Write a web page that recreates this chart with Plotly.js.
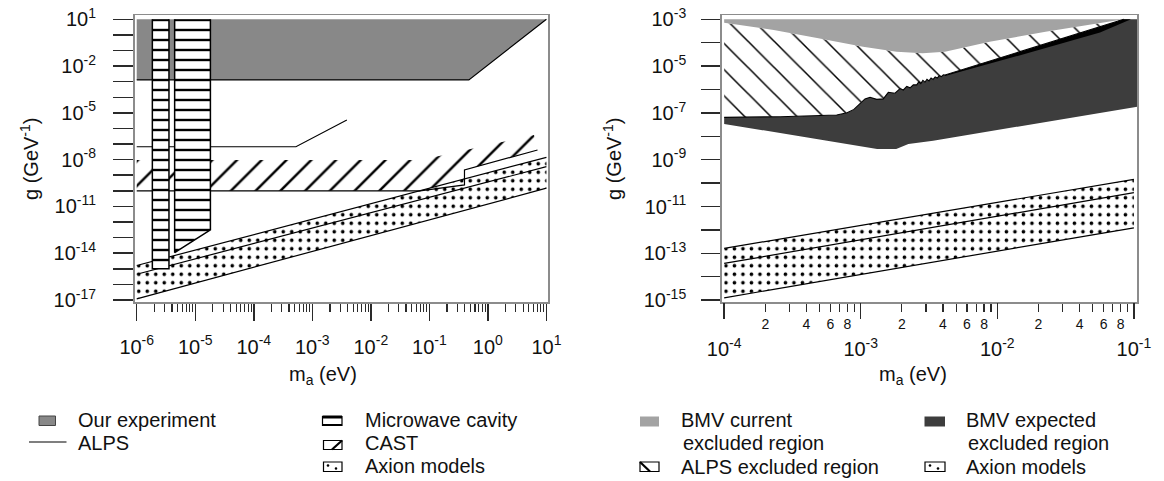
<!DOCTYPE html>
<html>
<head>
<meta charset="utf-8">
<script src="https://cdn.plot.ly/plotly-3.0.1.min.js"></script>
<style>
html,body{margin:0;padding:0;background:#fff;}
#chart{width:1164px;height:481px;}
</style>
</head>
<body>
<div id="chart"></div>
<script>
// ===== DATA (log10 of m_a [eV] and log10 of g [GeV^-1]) =====
// ---- left panel ----
const ourExpLogM = [-6, 1, -0.325, -6];
const ourExpLogG = [1, 1, -2.89, -2.89];
const mwc1LogM = [-5.733, -5.449, -5.449, -5.733];
const mwc1LogG = [1, 1, -15.0, -15.0];
const mwc2LogM = [-5.352, -4.741, -4.741, -5.352];
const mwc2LogG = [1, 1, -12.5, -13.96];
const castLogM = [-6, -1.14, 0.788, 0.848, -0.40, -0.40, -1.16, -6];
const castLogG = [-8.02, -8.02, -6.42, -7.38, -8.66, -9.62, -10.0, -10.0];
const castEdgeLogM = [-6, -1.16, -0.40, -0.40, 0.848];
const castEdgeLogG = [-10.0, -10.0, -9.62, -8.66, -7.38];
const alpsLineLogM = [-6, -3.28, -2.41];
const alpsLineLogG = [-7.17, -7.17, -5.46];
const axionLeftLogM = [-6, 1];
const axionLeftUpper = [-14.79, -7.85];
const axionLeftMid = [-15.35, -8.45];
const axionLeftLower = [-16.93, -9.83];
// ---- right panel ----
const bmvCurLogM = [-4.0, -3.637, -3.310, -2.983, -2.737, -2.547, -2.383, -2.056, -1.647, -1.238, -1.074];
const bmvCurLogG = [-3.145, -3.457, -3.812, -4.171, -4.385, -4.453, -4.385, -3.957, -3.530, -3.171, -3.0];
const alpsExclLogM = [-4.0, -3.591, -3.176, -3.10, -3.05, -3.029, -3.0, -2.969, -2.932, -2.883, -2.835, -2.798, -2.749, -2.712, -2.688, -2.663, -2.639, -2.615, -2.59, -2.575, -2.56, -2.545, -2.53, -2.515, -2.50, -2.485, -2.47, -2.455, -2.44, -2.425, -2.41, -2.395, -2.383, -1.074];
const alpsExclLogG = [-7.19, -7.162, -7.09, -6.99, -6.85, -6.735, -6.55, -6.40, -6.33, -6.42, -6.40, -6.12, -6.16, -5.96, -6.02, -5.87, -5.93, -5.80, -5.80, -5.67, -5.75, -5.61, -5.69, -5.56, -5.63, -5.51, -5.57, -5.46, -5.51, -5.41, -5.45, -5.37, -5.38, -3.0];
const bmvExpRightLogM = [-0.975, -0.975];
const bmvExpRightLogG = [-3.0, -6.735];
const bmvExpLowerLogM = [-2.47, -2.651, -2.74, -2.88, -4.0];
const bmvExpLowerLogG = [-8.19, -8.33, -8.54, -8.54, -7.47];
const wedgeLogM = [-2.383, -1.074, -1.021, -1.248, -1.736, -2.383];
const wedgeLogG = [-5.38, -3.0, -3.0, -3.56, -4.38, -5.42];
const axionRightLogM = [-4, -1.0];
const axionRightUpper = [-12.79, -9.84];
const axionRightMid = [-13.43, -10.41];
const axionRightLower = [-14.90, -11.91];

// tick labels
const leftXTickExp = [-6, -5, -4, -3, -2, -1, 0, 1];
const leftYLabelExp = [1, -2, -5, -8, -11, -14, -17];
const leftYOtherExp = [0, -1, -3, -4, -6, -7, -9, -10, -12, -13, -15, -16];
const rightXTickExp = [-4, -3, -2, -1];
const rightYLabelExp = [-3, -5, -7, -9, -11, -13, -15];
const rightYOtherExp = [-4, -6, -8, -10, -12, -14];
const minorMult = [2, 3, 4, 5, 6, 7, 8, 9];
const minorLabelled = [2, 4, 6, 8];
const minorUnlabelled = [3, 5, 7, 9];

// ===== helpers =====
const P = a => a.map(v => (v === null ? null : Math.pow(10, v)));
const sup = e => '10<sup>' + e + '</sup>';
const W = 1164, H = 481;
const px = v => v / W, py = v => 1 - v / H;
const FONT = 'Liberation Sans, Arial, Helvetica, sans-serif';

function fillTrace(xa, ya, lm, lg, opts) {
  return Object.assign({
    type: 'scatter', mode: 'lines', x: P(lm), y: P(lg), xaxis: xa, yaxis: ya,
    fill: 'toself', line: {width: 0, color: 'rgba(0,0,0,0)'}, hoverinfo: 'skip', showlegend: false
  }, opts);
}
function lineTrace(xa, ya, lm, lg, w) {
  return {type: 'scatter', mode: 'lines', x: P(lm), y: P(lg), xaxis: xa, yaxis: ya,
    line: {width: w || 1.2, color: '#000'}, hoverinfo: 'skip', showlegend: false};
}
function band(xa, ya, lm, up, mid, lo) {
  const polyM = [lm[0], lm[1], lm[1], lm[0]];
  const polyG = [up[0], up[1], lo[1], lo[0]];
  return [
    fillTrace(xa, ya, polyM, polyG, {fillcolor: '#fff',
      fillpattern: {shape: '.', size: 8.5, solidity: 0.14, fgcolor: '#000', bgcolor: '#fff', fillmode: 'replace'}}),
    lineTrace(xa, ya, [lm[0], lm[1], null, lm[0], lm[1], null, lm[0], lm[1]],
      [up[0], up[1], null, mid[0], mid[1], null, lo[0], lo[1]], 1.2)
  ];
}

const traces = [];
// ---- left panel ----
traces.push(fillTrace('x', 'y', ourExpLogM, ourExpLogG, {fillcolor: '#888888'}));
traces.push(lineTrace('x', 'y', [ourExpLogM[3], ourExpLogM[2], ourExpLogM[1]], [ourExpLogG[3], ourExpLogG[2], ourExpLogG[1]], 1.2));
traces.push(fillTrace('x', 'y', castLogM, castLogG, {fillcolor: 'rgba(0,0,0,0)',
  fillpattern: {shape: '/', size: 17.5, solidity: 0.14, fgcolor: '#000', bgcolor: 'rgba(255,255,255,0)', fillmode: 'replace'}}));
band('x', 'y', axionLeftLogM, axionLeftUpper, axionLeftMid, axionLeftLower).forEach(t => traces.push(t));
traces.push(lineTrace('x', 'y', castEdgeLogM, castEdgeLogG, 1.2));
traces.push(lineTrace('x', 'y', alpsLineLogM, alpsLineLogG, 1.1));
const mwPattern = {shape: '-', size: 10, solidity: 0.24, fgcolor: '#000', bgcolor: '#fff', fillmode: 'replace'};
traces.push(fillTrace('x', 'y', mwc1LogM, mwc1LogG, {fillcolor: '#fff', fillpattern: mwPattern}));
traces.push(fillTrace('x', 'y', mwc2LogM, mwc2LogG, {fillcolor: '#fff', fillpattern: mwPattern}));
traces.push(lineTrace('x', 'y', [mwc1LogM[0], mwc1LogM[3], mwc1LogM[2], mwc1LogM[1]], [mwc1LogG[0], mwc1LogG[3], mwc1LogG[2], mwc1LogG[1]], 1.5));
traces.push(lineTrace('x', 'y', [mwc2LogM[0], mwc2LogM[3], mwc2LogM[2], mwc2LogM[1]], [mwc2LogG[0], mwc2LogG[3], mwc2LogG[2], mwc2LogG[1]], 1.5));

// ---- right panel ----
const darkM = alpsExclLogM.concat(bmvExpRightLogM, bmvExpLowerLogM);
const darkG = alpsExclLogG.concat(bmvExpRightLogG, bmvExpLowerLogG);
traces.push(fillTrace('x2', 'y2', darkM, darkG, {fillcolor: '#3d3d3d'}));
traces.push(fillTrace('x2', 'y2', wedgeLogM, wedgeLogG, {fillcolor: '#000'}));
const hatchM = bmvCurLogM.concat(alpsExclLogM.slice().reverse());
const hatchG = bmvCurLogG.concat(alpsExclLogG.slice().reverse());
traces.push(fillTrace('x2', 'y2', hatchM, hatchG, {fillcolor: 'rgba(0,0,0,0)',
  fillpattern: {shape: '\\', size: 18.5, solidity: 0.08, fgcolor: '#000', bgcolor: '#fff', fillmode: 'replace'}}));
traces.push(fillTrace('x2', 'y2', bmvCurLogM.concat([bmvCurLogM[0]]), bmvCurLogG.concat([bmvCurLogG[bmvCurLogG.length - 1]]), {fillcolor: '#a3a3a3'}));
traces.push(lineTrace('x2', 'y2', alpsExclLogM, alpsExclLogG, 1.1));
// axion band of the right panel sits on the decade axis (x3, overlaying x2, same scale)
band('x3', 'y2', axionRightLogM, axionRightUpper, axionRightMid, axionRightLower).forEach(t => traces.push(t));

// ===== axes =====
const leftMinor = [];
leftXTickExp.slice(0, -1).forEach(e => minorMult.forEach(k => leftMinor.push(k * Math.pow(10, e))));
const rightLab = [], rightLabText = [], rightUnlab = [];
rightXTickExp.slice(0, -1).forEach(e => {
  minorLabelled.forEach(k => { rightLab.push(k * Math.pow(10, e)); rightLabText.push(String(k)); });
  minorUnlabelled.forEach(k => rightUnlab.push(k * Math.pow(10, e)));
});

const tickCol = '#2a2a2a', frameCol = '#8c8c8c';
const common = {showgrid: false, zeroline: false, ticks: 'outside', tickwidth: 1.5, tickcolor: tickCol,
  showline: true, mirror: true, linecolor: frameCol, linewidth: 1.5, tickfont: {size: 20, family: FONT, color: '#111'},
  tickmode: 'array', fixedrange: true, type: 'log'};

const yDomain = [py(302), py(15)];
const layout = {
  width: W, height: H, margin: {l: 0, r: 0, t: 0, b: 0},
  paper_bgcolor: '#fff', plot_bgcolor: '#fff', showlegend: false,
  font: {family: FONT, size: 20, color: '#111'},
  xaxis: Object.assign({}, common, {
    domain: [px(134.5), px(548)], range: [-6.038, 1.027], anchor: 'y',
    tickvals: P(leftXTickExp), ticktext: leftXTickExp.map(sup), ticklen: 17, ticklabelstandoff: 9,
    minor: {tickmode: 'array', tickvals: leftMinor, ticks: 'outside', ticklen: 8, tickwidth: 1.2, tickcolor: tickCol}
  }),
  yaxis: Object.assign({}, common, {
    domain: yDomain, range: [-17.13, 1.276], anchor: 'x',
    tickvals: P(leftYLabelExp), ticktext: leftYLabelExp.map(sup), ticklen: 20, ticklabelstandoff: 13,
    minor: {tickmode: 'array', tickvals: P(leftYOtherExp), ticks: 'outside', ticklen: 20, tickwidth: 1.5, tickcolor: tickCol}
  }),
  xaxis2: Object.assign({}, common, {
    domain: [px(721.7), px(1137.3)], range: [-4.018, -0.975], anchor: 'y2',
    tickvals: rightLab, ticktext: rightLabText, ticklen: 8, tickwidth: 1.2,
    tickfont: {size: 14, family: FONT, color: '#111'}, ticklabelstandoff: 1,
    minor: {tickmode: 'array', tickvals: rightUnlab, ticks: 'outside', ticklen: 8, tickwidth: 1.2, tickcolor: tickCol}
  }),
  xaxis3: Object.assign({}, common, {
    overlaying: 'x2', anchor: 'y2', side: 'bottom', range: [-4.018, -0.975], showline: false,
    tickvals: P(rightXTickExp), ticktext: rightXTickExp.map(sup), ticklen: 16, ticklabelstandoff: 13
  }),
  yaxis2: Object.assign({}, common, {
    domain: yDomain, range: [-15.08, -2.816], anchor: 'x2',
    tickvals: P(rightYLabelExp), ticktext: rightYLabelExp.map(sup), ticklen: 19, ticklabelstandoff: 11,
    minor: {tickmode: 'array', tickvals: P(rightYOtherExp), ticks: 'outside', ticklen: 19, tickwidth: 1.5, tickcolor: tickCol}
  }),
  annotations: [],
  shapes: []
};

// ===== axis titles (text annotations placed like the reference) =====
const ann = (text, x, y, o) => layout.annotations.push(Object.assign({
  text: text, x: px(x), y: py(y), xref: 'paper', yref: 'paper', showarrow: false,
  xanchor: 'left', yanchor: 'middle', font: {size: 20, family: FONT, color: '#111'}
}, o || {}));
ann('g (GeV<sup>-1</sup>)', 29, 159, {textangle: -90, xanchor: 'center'});
ann('g (GeV<sup>-1</sup>)', 612, 159, {textangle: -90, xanchor: 'center'});
ann('m<sub>a</sub> (eV)', 323, 375, {xanchor: 'center'});
ann('m<sub>a</sub> (eV)', 913, 375, {xanchor: 'center'});

// ===== legends (icons + labels) =====
const rect = (x0, y0, x1, y1, fill, lw, lc) => layout.shapes.push({type: 'rect', xref: 'paper', yref: 'paper',
  x0: px(x0), x1: px(x1), y0: py(y1), y1: py(y0), fillcolor: fill, line: {width: lw, color: lc || '#000'}});
const seg = (x0, y0, x1, y1, lw) => layout.shapes.push({type: 'line', xref: 'paper', yref: 'paper',
  x0: px(x0), x1: px(x1), y0: py(y0), y1: py(y1), line: {width: lw, color: '#000'}});
const dot = (x, y, r) => layout.shapes.push({type: 'circle', xref: 'paper', yref: 'paper',
  x0: px(x - r), x1: px(x + r), y0: py(y + r), y1: py(y - r), fillcolor: '#000', line: {width: 0}});

// left legend
rect(39, 416, 55.5, 425.5, '#888888', 1, '#444');
ann('Our experiment', 76, 420);
seg(29, 442, 66.5, 442, 1.1);
ann('ALPS', 76, 443);
rect(322.5, 416.5, 342, 425.5, '#fff', 1.2);
seg(322.5, 417, 342, 417, 3); seg(322.5, 425, 342, 425, 2);
ann('Microwave cavity', 362.5, 420);
rect(323.5, 440.5, 342, 449.5, '#fff', 1.2);
seg(332, 449.5, 342, 440.5, 2.2);
ann('CAST', 362.5, 443);
rect(323.5, 462, 342, 471.5, '#fff', 1.2);
dot(328, 465.5, 1.3); dot(336, 468.5, 1.3);
ann('Axion models', 362.5, 466);

// right legend
rect(640, 416.5, 659, 426.5, '#a3a3a3', 0);
ann('BMV current', 679, 420);
ann('excluded region', 680.5, 443);
rect(924.5, 416.5, 945, 426.5, '#3d3d3d', 0);
ann('BMV expected', 964, 420);
ann('excluded region', 965.5, 443);
rect(640, 462, 659, 471.5, '#fff', 1.2);
seg(640, 462, 650, 471.5, 2.2);
ann('ALPS excluded region', 679, 467);
rect(925, 462, 945, 471.5, '#fff', 1.2);
dot(930, 465.5, 1.3); dot(938, 468.5, 1.3);
ann('Axion models', 964, 467);

Plotly.newPlot('chart', traces, layout, {staticPlot: true, displayModeBar: false});
</script>
</body>
</html>
